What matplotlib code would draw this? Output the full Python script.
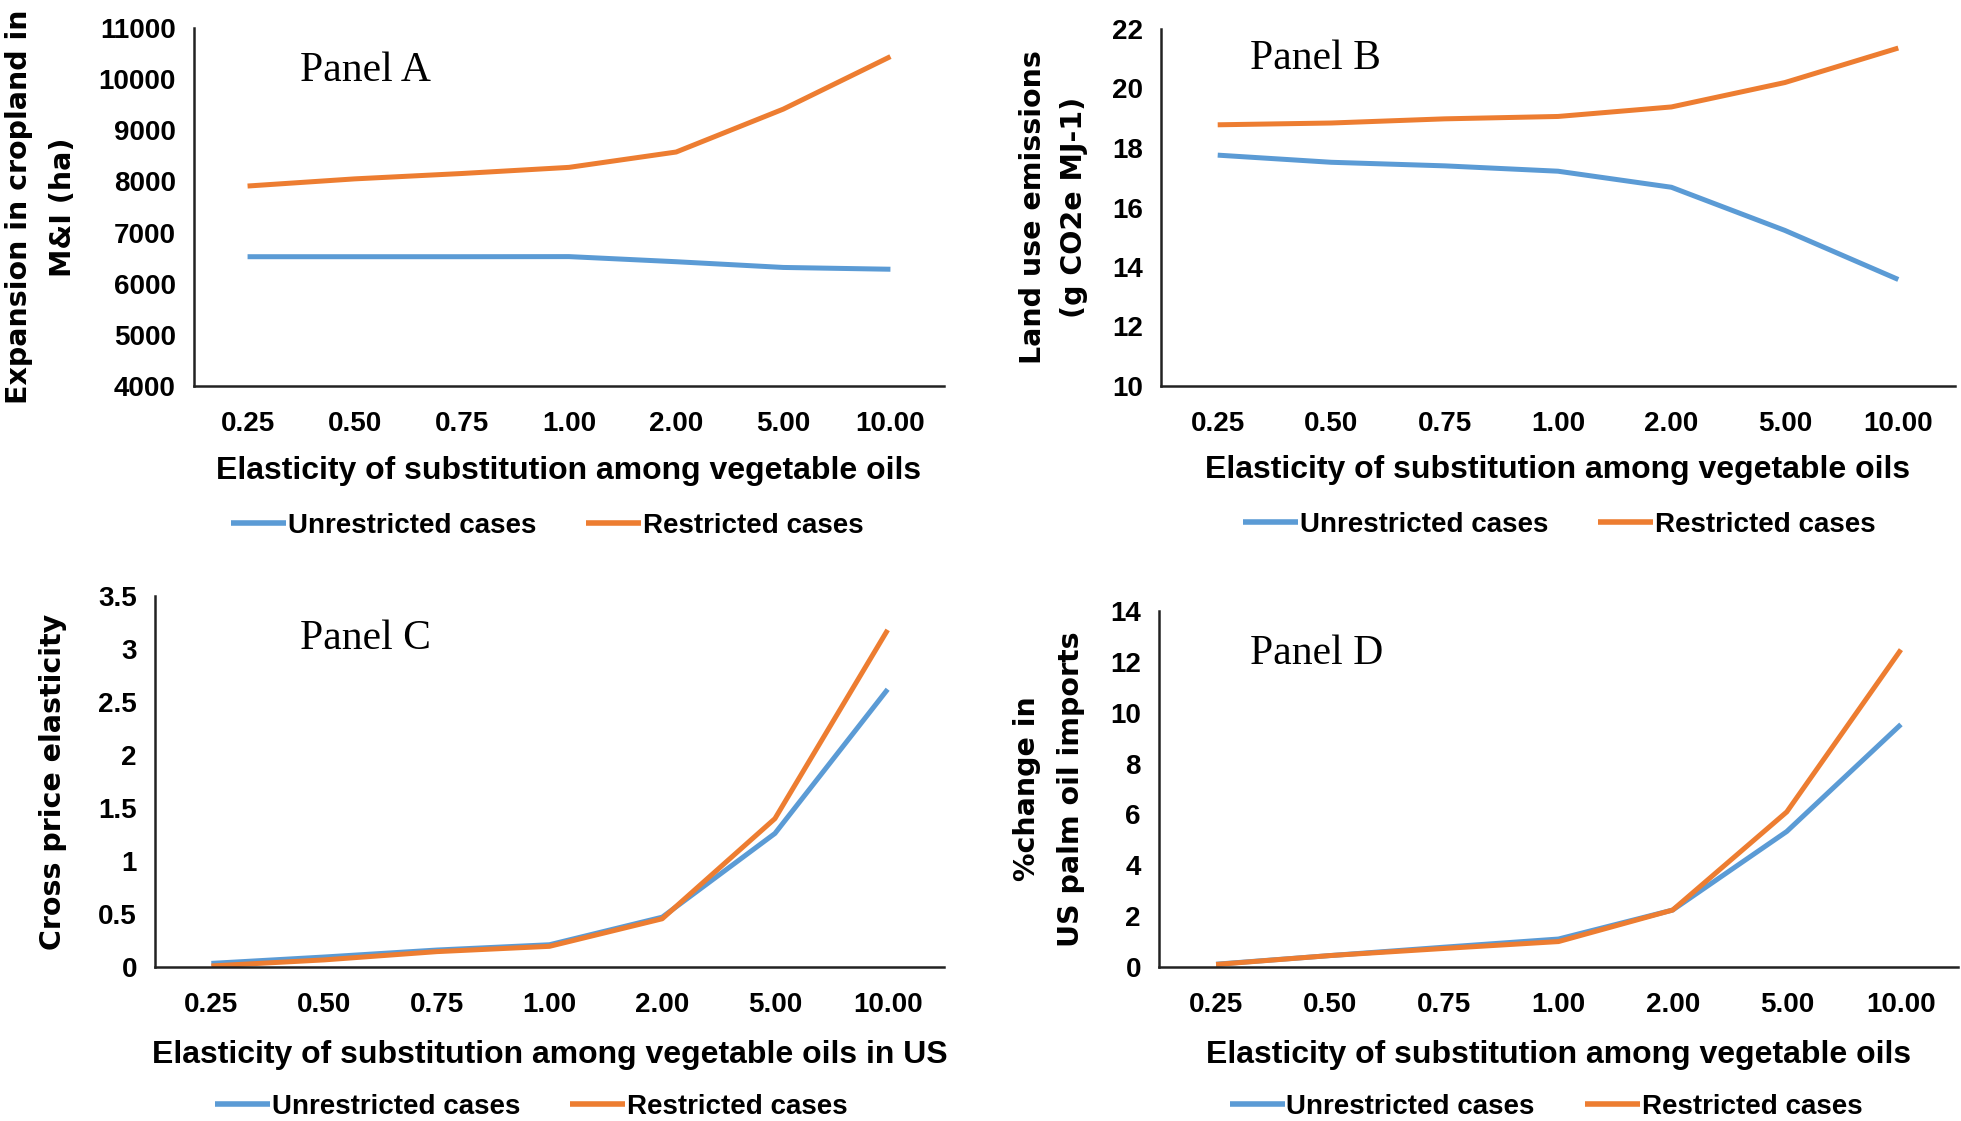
import matplotlib
matplotlib.use("Agg")
import matplotlib.pyplot as plt

# datos
categorias = ["0.25", "0.50", "0.75", "1.00", "2.00", "5.00", "10.00"]

tierraSinRestr = [6528, 6528, 6528, 6530, 6430, 6318, 6283]
tierraConRestr = [7910, 8050, 8155, 8275, 8575, 9414, 10441]

emisionSinRestr = [17.76, 17.52, 17.40, 17.22, 16.68, 15.23, 13.58]
emisionConRestr = [18.78, 18.84, 18.98, 19.06, 19.38, 20.20, 21.36]

cruceSinRestr = [0.034, 0.094, 0.16, 0.21, 0.47, 1.26, 2.62]
cruceConRestr = [0.01, 0.067, 0.145, 0.195, 0.455, 1.40, 3.18]

palmaSinRestr = [0.11, 0.45, 0.78, 1.10, 2.24, 5.33, 9.54]
palmaConRestr = [0.10, 0.45, 0.73, 1.00, 2.24, 6.10, 12.48]

AZUL = "#5B9BD5"
NARANJA = "#ED7D31"

fuenteEje = ["Liberation Sans", "DejaVu Sans"]

W, H = 1961, 1121
fig = plt.figure(figsize=(W / 100, H / 100), dpi=100)


def panel(caja, y1, y2, ylim, paso, yetiqueta, titulo, posTitulo, xetiqueta,
          posLeyenda, enteros=True):
    l, t, r, b = caja
    ax = fig.add_axes([l / W, 1 - b / H, (r - l) / W, (b - t) / H])
    x = list(range(len(categorias)))
    ax.plot(x, y1, color=AZUL, lw=3.6, solid_capstyle="butt", label="Unrestricted cases")
    ax.plot(x, y2, color=NARANJA, lw=3.6, solid_capstyle="butt", label="Restricted cases")
    ax.set_xlim(-0.5, len(categorias) - 0.5)
    ax.set_ylim(*ylim)
    ticks = []
    v = ylim[0]
    while v <= ylim[1] + 1e-9:
        ticks.append(v)
        v += paso
    ax.set_yticks(ticks)
    if enteros:
        ax.set_yticklabels(["%d" % t_ for t_ in ticks])
    else:
        ax.set_yticklabels(["%g" % t_ for t_ in ticks])
    ax.set_xticks(x)
    ax.set_xticklabels(categorias)
    for s in ["top", "right"]:
        ax.spines[s].set_visible(False)
    for s in ["left", "bottom"]:
        ax.spines[s].set_linewidth(1.8)
        ax.spines[s].set_color("#222222")
    ax.tick_params(axis="both", length=0)
    ax.tick_params(axis="x", pad=18)
    ax.tick_params(axis="y", pad=13)
    for lab in ax.get_xticklabels() + ax.get_yticklabels():
        lab.set_family(fuenteEje)
        lab.set_fontweight("bold")
        lab.set_fontsize(20)
    # etiqueta eje y (una o dos lineas)
    for (texto, xpix) in yetiqueta:
        fig.text(xpix / W, 1 - ((t + b) / 2) / H, texto, rotation=90,
                 ha="center", va="center", fontsize=20.5, fontweight="bold",
                 family="DejaVu Sans")
    ax.text(posTitulo[0], posTitulo[1], titulo, transform=ax.transAxes,
            family="Liberation Serif", fontsize=30, va="center", ha="left")
    fig.text(((l + r) / 2) / W, 1 - xetiqueta[1] / H, xetiqueta[0], ha="center",
             va="center", family=fuenteEje, fontweight="bold", fontsize=23)
    ley = ax.legend(loc="center", bbox_to_anchor=(posLeyenda[0] / W, 1 - posLeyenda[1] / H),
                    bbox_transform=fig.transFigure, ncol=2, frameon=False,
                    handlelength=2.0, handletextpad=0.05, columnspacing=1.8,
                    prop={"family": fuenteEje, "weight": "bold", "size": 20})
    for linea in ley.get_lines():
        linea.set_linewidth(4)
    return ax


panel((194, 28, 944, 386), tierraSinRestr, tierraConRestr, (4000, 11000), 1000,
      [("Expansion in cropland in", 19), ("M&I (ha)", 63)], "Panel A", (0.141, 0.88),
      ("Elasticity of substitution among vegetable oils", 471), (547, 526))

panel((1161, 29, 1955, 386), emisionSinRestr, emisionConRestr, (10, 22), 2,
      [("Land use emissions", 1033), ("(g CO2e MJ-1)", 1074)], "Panel B", (0.112, 0.916),
      ("Elasticity of substitution among vegetable oils", 470), (1559, 525))

panel((155, 596, 944, 967), cruceSinRestr, cruceConRestr, (0, 3.5), 0.5,
      [("Cross price elasticity", 53)], "Panel C", (0.184, 0.884),
      ("Elasticity of substitution among vegetable oils in US", 1055), (531, 1107),
      enteros=False)

panel((1159, 611, 1958, 967), palmaSinRestr, palmaConRestr, (0, 14), 2,
      [("%change in", 1027), ("US palm oil imports", 1071)], "Panel D", (0.114, 0.879),
      ("Elasticity of substitution among vegetable oils", 1055), (1546, 1107))

plt.savefig("out.png", dpi=100)
